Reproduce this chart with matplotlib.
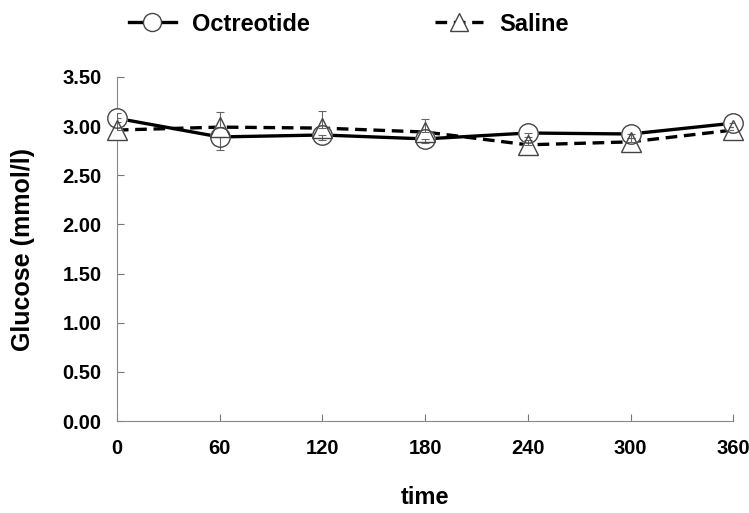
import matplotlib
matplotlib.use("Agg")
import matplotlib.pyplot as plt
import numpy as np

plt.rcParams['font.family'] = ['Liberation Sans', 'DejaVu Sans']
plt.rcParams['font.weight'] = 'bold'

time = [0, 60, 120, 180, 240, 300, 360]
octreotide = [3.08, 2.89, 2.91, 2.87, 2.93, 2.92, 3.03]
octreotide_err = [0.04, 0.13, 0.05, 0.04, 0.04, 0.04, 0.04]   # lower side
saline = [2.96, 2.99, 2.98, 2.94, 2.81, 2.84, 2.96]
saline_err = [0.17, 0.15, 0.17, 0.13, 0.05, 0.04, 0.03]       # upper side
yticks = [0.0, 0.5, 1.0, 1.5, 2.0, 2.5, 3.0, 3.5]

fig = plt.figure(figsize=(7.49, 5.13), dpi=100)
ax = fig.add_axes([0.156, 0.179, 0.823, 0.671])

zero = np.zeros(len(time))

# lines
ax.plot(time, octreotide, '-', color='black', lw=2.4, zorder=2)
ax.plot(time, saline, '--', color='black', lw=2.4, dashes=(3.5, 2), zorder=2)
# white fill to open gaps round the markers
ax.plot(time, octreotide, 'o', ms=14, mfc='white', mec='white', zorder=3, clip_on=False)
ax.plot(time, saline, '^', ms=15, mfc='white', mec='white', zorder=3, clip_on=False)
# error bars
ax.errorbar(time, octreotide, yerr=[octreotide_err, zero], fmt='none',
            ecolor='#666666', elinewidth=0.8, capsize=3, capthick=0.8, zorder=4)
ax.errorbar(time, saline, yerr=[zero, saline_err], fmt='none',
            ecolor='#666666', elinewidth=0.8, capsize=3, capthick=0.8, zorder=4)
# marker outlines
ax.plot(time, octreotide, 'o', ms=14, mfc='none', mec='#444444', mew=1.0,
        zorder=5, clip_on=False)
ax.plot(time, saline, '^', ms=15, mfc='none', mec='#444444', mew=1.0,
        zorder=5, clip_on=False)

# legend handles
h1, = ax.plot([], [], '-', color='black', lw=2.4, marker='o', ms=13,
              mfc='white', mec='#444444', mew=1.0, label='Octreotide')
h2, = ax.plot([], [], '--', color='black', lw=2.4, dashes=(3.5, 2), marker='^',
              ms=13, mfc='white', mec='#444444', mew=1.0, label='Saline')

ax.set_xlim(0, 360)
ax.set_ylim(0, 3.5)
ax.set_xticks(time)
ax.set_yticks(yticks)
ax.set_yticklabels(['%.2f' % v for v in yticks])
ax.tick_params(direction='in', length=5, width=0.8, colors='#777777',
               labelcolor='black', labelsize=14.5)
ax.tick_params(axis='x', pad=13)
ax.tick_params(axis='y', pad=11)

for s in ['top', 'right']:
    ax.spines[s].set_visible(False)
for s in ['left', 'bottom']:
    ax.spines[s].set_color('#888888')
    ax.spines[s].set_linewidth(0.8)

ax.set_ylabel('Glucose (mmol/l)', fontsize=18, fontweight='bold', labelpad=20)
ax.set_xlabel('time', fontsize=17, fontweight='bold', labelpad=20)

fig.legend(handles=[h1, h2], loc='center left', bbox_to_anchor=(0.156, 0.953),
           ncol=2, frameon=False, handlelength=2.0, borderpad=0,
           columnspacing=5.3, handletextpad=0.7,
           prop={'weight': 'bold', 'size': 17})

fig.savefig('out.png', dpi=100)
